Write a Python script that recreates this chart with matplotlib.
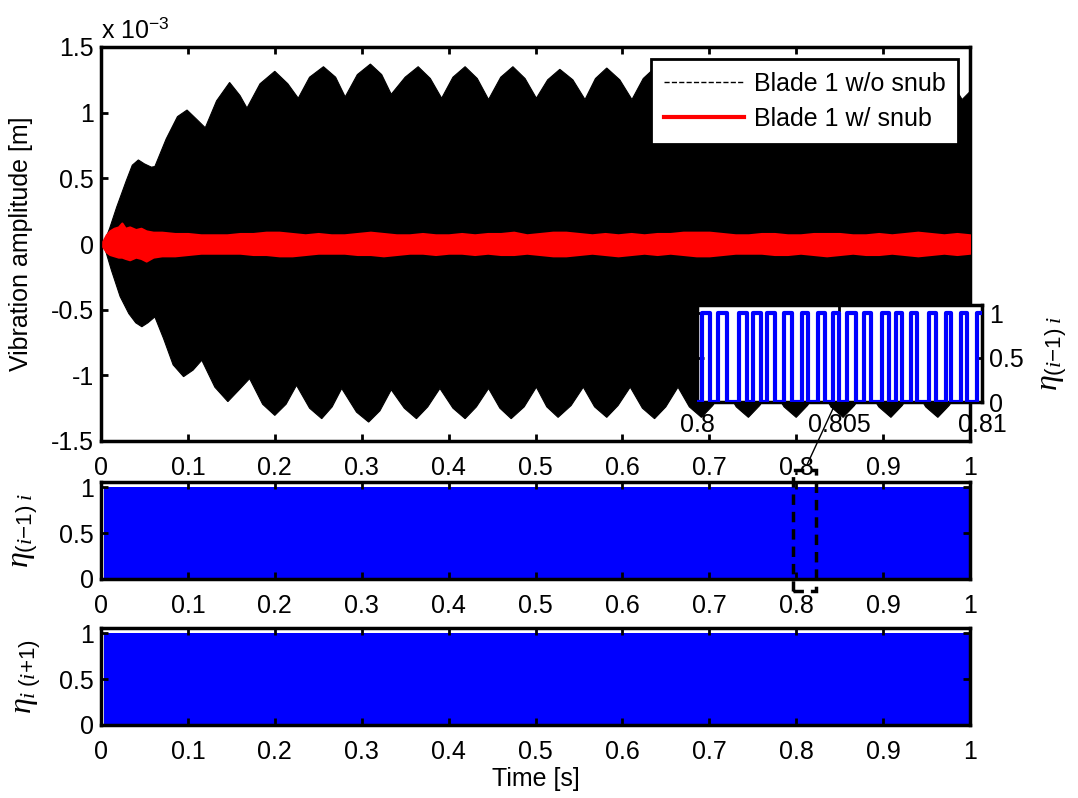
import numpy as np
import matplotlib
matplotlib.use('Agg')
import matplotlib.pyplot as plt
import matplotlib.ticker as ticker
from matplotlib.lines import Line2D
from matplotlib.patches import Rectangle, FancyArrowPatch

plt.rcParams['font.family'] = ['Liberation Sans', 'DejaVu Sans']
plt.rcParams['mathtext.fontset'] = 'custom'
plt.rcParams['mathtext.rm'] = 'Liberation Sans'
plt.rcParams['mathtext.it'] = 'Liberation Serif:italic'
plt.rcParams['axes.unicode_minus'] = False
plt.rcParams['font.size'] = 18

# Огибающая колебаний лопатки без демпфера, x 1e-3 м
env_t_hi = [0.000, 0.003, 0.010, 0.018, 0.029, 0.036, 0.043, 0.050, 0.058, 0.062,
            0.075, 0.088, 0.099, 0.110, 0.120, 0.133, 0.148, 0.160, 0.168, 0.183,
            0.200, 0.215, 0.227, 0.240, 0.256, 0.270, 0.281, 0.295, 0.310, 0.323,
            0.334, 0.350, 0.365, 0.379, 0.392, 0.405, 0.419, 0.433, 0.446, 0.460,
            0.474, 0.488, 0.501, 0.514, 0.528, 0.543, 0.557, 0.569, 0.582, 0.597,
            0.611, 0.624, 0.637, 0.651, 0.665, 0.678, 0.691, 0.705, 0.720, 0.732,
            0.745, 0.759, 0.774, 0.787, 0.800, 0.814, 0.828, 0.841, 0.855, 0.869,
            0.882, 0.895, 0.909, 0.923, 0.937, 0.950, 0.963, 0.977, 0.991, 1.000]
env_hi = [0.00, 0.00, 0.12, 0.28, 0.48, 0.60, 0.64, 0.61, 0.585, 0.59,
          0.80, 0.97, 1.02, 0.95, 0.885, 1.09, 1.23, 1.13, 1.035, 1.22,
          1.315, 1.22, 1.11, 1.27, 1.35, 1.27, 1.12, 1.29, 1.37, 1.29,
          1.14, 1.27, 1.35, 1.26, 1.11, 1.27, 1.35, 1.26, 1.10, 1.27,
          1.35, 1.26, 1.11, 1.25, 1.33, 1.25, 1.10, 1.26, 1.34, 1.25,
          1.10, 1.26, 1.34, 1.25, 1.10, 1.26, 1.34, 1.25, 1.10, 1.26,
          1.34, 1.25, 1.10, 1.26, 1.34, 1.25, 1.10, 1.26, 1.34, 1.25,
          1.10, 1.26, 1.34, 1.25, 1.10, 1.26, 1.34, 1.25, 1.10, 1.16]
env_t_lo = [0.000, 0.003, 0.012, 0.022, 0.032, 0.040, 0.047, 0.054, 0.062, 0.072,
            0.083, 0.095, 0.106, 0.116, 0.131, 0.146, 0.159, 0.171, 0.186, 0.200,
            0.213, 0.225, 0.240, 0.254, 0.266, 0.277, 0.294, 0.308, 0.321, 0.334,
            0.349, 0.363, 0.376, 0.390, 0.405, 0.419, 0.432, 0.446, 0.459, 0.472,
            0.487, 0.501, 0.513, 0.526, 0.541, 0.555, 0.568, 0.582, 0.595, 0.609,
            0.623, 0.637, 0.650, 0.664, 0.677, 0.691, 0.704, 0.718, 0.731, 0.745,
            0.758, 0.772, 0.786, 0.800, 0.813, 0.827, 0.840, 0.854, 0.867, 0.881,
            0.895, 0.909, 0.922, 0.936, 0.949, 0.963, 0.976, 0.990, 1.000]
env_lo = [0.00, 0.00, -0.20, -0.40, -0.53, -0.60, -0.63, -0.60, -0.555, -0.72,
          -0.92, -1.01, -0.96, -0.885, -1.09, -1.20, -1.11, -1.025, -1.22, -1.305,
          -1.22, -1.076, -1.25, -1.33, -1.24, -1.10, -1.28, -1.356, -1.27, -1.11,
          -1.25, -1.33, -1.24, -1.10, -1.25, -1.33, -1.24, -1.10, -1.25, -1.33,
          -1.24, -1.09, -1.24, -1.32, -1.23, -1.09, -1.24, -1.32, -1.23, -1.09,
          -1.25, -1.33, -1.24, -1.09, -1.24, -1.32, -1.23, -1.09, -1.24, -1.32,
          -1.23, -1.09, -1.24, -1.32, -1.23, -1.09, -1.24, -1.32, -1.23, -1.09,
          -1.24, -1.32, -1.23, -1.09, -1.24, -1.32, -1.23, -1.09, -1.15]

# Лопатка с демпфером (снаббером), x 1e-3 м
snub_t = [0.002, 0.006, 0.010, 0.015, 0.020, 0.024, 0.028, 0.033, 0.040, 0.046,
          0.052, 0.060, 0.070, 0.085, 0.100, 0.115, 0.130, 0.145, 0.160, 0.175,
          0.190, 0.205, 0.220, 0.235, 0.250, 0.265, 0.280, 0.295, 0.310, 0.325,
          0.340, 0.355, 0.370, 0.385, 0.400, 0.415, 0.430, 0.445, 0.460, 0.475,
          0.490, 0.505, 0.520, 0.535, 0.550, 0.565, 0.580, 0.595, 0.610, 0.625,
          0.640, 0.655, 0.670, 0.685, 0.700, 0.715, 0.730, 0.745, 0.760, 0.775,
          0.790, 0.805, 0.820, 0.835, 0.850, 0.865, 0.880, 0.895, 0.910, 0.925,
          0.940, 0.955, 0.970, 0.985, 1.000]
snub_hi = [0.02, 0.07, 0.10, 0.12, 0.13, 0.16, 0.12, 0.13, 0.11, 0.12,
           0.10, 0.09, 0.09, 0.08, 0.08, 0.07, 0.07, 0.07, 0.08, 0.08,
           0.09, 0.09, 0.08, 0.07, 0.08, 0.07, 0.07, 0.08, 0.09, 0.08,
           0.07, 0.07, 0.08, 0.07, 0.07, 0.08, 0.07, 0.08, 0.08, 0.09,
           0.07, 0.08, 0.09, 0.09, 0.08, 0.07, 0.08, 0.07, 0.08, 0.07,
           0.08, 0.08, 0.09, 0.09, 0.09, 0.08, 0.07, 0.07, 0.08, 0.08,
           0.07, 0.07, 0.08, 0.08, 0.08, 0.07, 0.07, 0.08, 0.07, 0.08,
           0.09, 0.08, 0.07, 0.08, 0.07]
snub_lo = [-0.02, -0.06, -0.08, -0.09, -0.10, -0.10, -0.11, -0.12, -0.10, -0.11,
           -0.13, -0.10, -0.09, -0.09, -0.08, -0.07, -0.07, -0.07, -0.07, -0.08,
           -0.08, -0.09, -0.09, -0.08, -0.07, -0.07, -0.07, -0.08, -0.08, -0.09,
           -0.08, -0.07, -0.07, -0.08, -0.07, -0.07, -0.08, -0.07, -0.08, -0.08,
           -0.07, -0.08, -0.09, -0.09, -0.08, -0.07, -0.08, -0.09, -0.08, -0.07,
           -0.08, -0.07, -0.08, -0.09, -0.09, -0.08, -0.07, -0.07, -0.07, -0.08,
           -0.08, -0.07, -0.08, -0.09, -0.08, -0.07, -0.08, -0.08, -0.07, -0.08,
           -0.09, -0.08, -0.07, -0.08, -0.07]

# Контакт η: переключения на участке 0.8-0.81 с
eta_rise = [0.80017, 0.80073, 0.80147, 0.80196, 0.80245, 0.80304, 0.80367, 0.80423, 0.80476,
            0.80528, 0.80587, 0.80650, 0.80699, 0.80752, 0.80815, 0.80874, 0.80927, 0.80983]
eta_fall = [0.80045, 0.80105, 0.80175, 0.80224, 0.80273, 0.80332, 0.80388, 0.80448, 0.80500,
            0.80559, 0.80612, 0.80675, 0.80720, 0.80773, 0.80839, 0.80892, 0.80948]
# на полном интервале сигнал переключается 0/1 слишком часто - сплошная полоса
eta_t = [0.0, 0.004, 0.004, 1.0]
eta_band = [0.0, 0.0, 1.0, 1.0]

time_ticks = [0, 0.1, 0.2, 0.3, 0.4, 0.5, 0.6, 0.7, 0.8, 0.9, 1]
amp_ticks = [-1.5, -1, -0.5, 0, 0.5, 1, 1.5]
eta_ticks = [0, 0.5, 1]

W, H = 1078, 798
fig = plt.figure(figsize=(W / 100, H / 100), dpi=100)


def px_box(x0, y0, x1, y1):
    return [x0 / W, 1 - y1 / H, (x1 - x0) / W, (y1 - y0) / H]


fmt_g = ticker.FuncFormatter(lambda v, _: f"{v:g}")


def style(ax, xpad=11):
    for s in ax.spines.values():
        s.set_linewidth(2.5)
    ax.tick_params(direction='in', length=5, width=2, top=True, right=True, labelsize=18)
    ax.tick_params(axis='x', pad=xpad)
    ax.tick_params(axis='y', pad=5)
    ax.xaxis.set_major_formatter(fmt_g)


# Верхний график - амплитуда колебаний
ax1 = fig.add_axes(px_box(101, 47, 970, 441))
style(ax1)
poly_t = env_t_hi + env_t_lo[::-1]
poly_v = [v * 1e-3 for v in env_hi + env_lo[::-1]]
ax1.fill(poly_t, poly_v, color='black', lw=0.8, zorder=2)
ax1.fill_between(snub_t, [v * 1e-3 for v in snub_lo], [v * 1e-3 for v in snub_hi],
                 color='red', lw=1.5, edgecolor='red', zorder=3)
ax1.set_xlim(0, 1)
ax1.set_ylim(-1.5e-3, 1.5e-3)
ax1.set_xticks(time_ticks)
ax1.set_yticks([v * 1e-3 for v in amp_ticks])
ax1.yaxis.set_major_formatter(ticker.FuncFormatter(lambda v, _: f"{round(v * 1e3, 2):g}"))
ax1.set_ylabel('Vibration amplitude [m]', fontsize=18)
ax1.yaxis.set_label_coords(-0.078, 0.5)
ax1.text(0.0, 1.01, r'x 10$^{\mathrm{-3}}$', transform=ax1.transAxes, fontsize=18,
         ha='left', va='bottom')

handles = [Line2D([], [], color='black', ls='--', lw=1),
           Line2D([], [], color='red', lw=3)]
leg = ax1.legend(handles, ['Blade 1 w/o snub', 'Blade 1 w/ snub'], loc='upper right',
                 bbox_to_anchor=(0.9862, 0.9687), borderaxespad=0, fancybox=False,
                 framealpha=1, edgecolor='black', handlelength=3.2, fontsize=18,
                 borderpad=0.5, labelspacing=0.45, handletextpad=0.4)
leg.get_frame().set_linewidth(2)
leg.set_zorder(5)

# Нижние графики - функции контакта
eta_labels = [r'$\eta_{(i\mathrm{-}1)\ i}$', r'$\eta_{i\ (i\mathrm{+}1)}$']
eta_boxes = [(101, 482, 970, 579), (101, 628, 970, 725)]
eta_axes = []
for box, lab, lx in zip(eta_boxes, eta_labels, [-0.070, -0.067]):
    ax = fig.add_axes(px_box(*box))
    style(ax)
    ax.fill_between(eta_t, 0, eta_band, color='blue', lw=0)
    ax.plot(eta_t, [0, 0, 0, 0], color='blue', lw=1.5)
    ax.set_xlim(0, 1)
    ax.set_ylim(0, 1.06)
    ax.set_xticks(time_ticks)
    ax.set_yticks(eta_ticks)
    ax.yaxis.set_major_formatter(fmt_g)
    ax.set_ylabel(lab, fontsize=23)
    ax.yaxis.set_label_coords(lx, 0.5)
    eta_axes.append(ax)
eta_axes[-1].set_xlabel('Time [s]', fontsize=18, labelpad=2)

# Врезка: η на интервале 0.8-0.81 с
sq_t = [0.8]
sq_v = [0]
for i, r in enumerate(eta_rise):
    sq_t += [r, r]
    sq_v += [0, 1]
    if i < len(eta_fall):
        sq_t += [eta_fall[i], eta_fall[i]]
        sq_v += [1, 0]
sq_t.append(0.81)
sq_v.append(1)

axi = fig.add_axes(px_box(697, 305, 982, 402))
style(axi, xpad=8)
axi.plot(sq_t, sq_v, color='blue', lw=3, solid_joinstyle='round', zorder=3)
axi.set_xlim(0.8, 0.81)
axi.set_ylim(0, 1.09)
axi.set_xticks([0.8, 0.805, 0.81])
axi.set_yticks(eta_ticks)
axi.yaxis.set_major_formatter(fmt_g)
axi.tick_params(labelleft=False, labelright=True)
axi.yaxis.set_label_position('right')
axi.set_ylabel(eta_labels[0], fontsize=23)
axi.yaxis.set_label_coords(1.2, 0.5)
axi.set_zorder(6)

# Пунктирная рамка и указатель на врезку
fig.add_artist(Rectangle((793 / W, 1 - 591 / H), 23 / W, 121 / H, transform=fig.transFigure,
                         fill=False, ls=(0, (3, 2)), lw=2.5, edgecolor='black', zorder=7))
fig.add_artist(FancyArrowPatch(
    (806 / W, 1 - 467 / H), (837 / W, 1 - 400 / H), transform=fig.transFigure,
    arrowstyle='-|>', mutation_scale=8, lw=1, color='black', zorder=7))

fig.savefig('out.png', dpi=100)
